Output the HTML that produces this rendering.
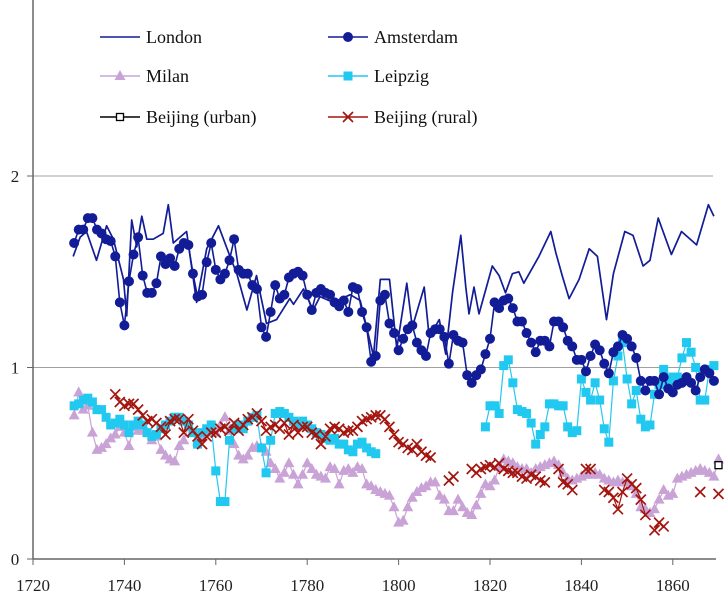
<!DOCTYPE html>
<html><head><meta charset="utf-8"><style>
body{margin:0;background:#fff;}
svg{display:block;font-family:"Liberation Serif",serif;}
</style></head><body>
<svg id="chart" width="728" height="599" viewBox="0 0 728 599"></svg>
<script>
const xTicks=[1720,1740,1760,1780,1800,1820,1840,1860];
const yTicks=[0,1,2];
const londonYears=[1728.8,1730.3,1731.7,1733.9,1736.1,1737.6,1739.8,1740.5,1741.6,1742.7,1743.8,1744.9,1746.3,1748.5,1749.6,1750.7,1753.6,1755.8,1758,1760.6,1763.1,1764.6,1766.8,1768.9,1771.1,1773.3,1776.2,1777,1779.2,1781.3,1782.8,1785.7,1789.4,1791.6,1793,1794.5,1796,1798,1799.6,1801.8,1803,1805.6,1806.7,1808.9,1810.3,1811.8,1813.6,1814.7,1815.4,1816.5,1817.6,1820.5,1822,1823.4,1824.9,1826.3,1827.4,1830.7,1833.3,1834.4,1835.8,1837.3,1839.5,1841.7,1843.5,1845.5,1847,1849.5,1851.3,1853.5,1855,1856.8,1859.7,1861.9,1865.2,1867.8,1869];
const londonVals=[1.58,1.68,1.71,1.56,1.74,1.67,1.46,1.27,1.77,1.63,1.79,1.67,1.67,1.7,1.85,1.65,1.71,1.34,1.62,1.74,1.58,1.49,1.3,1.48,1.23,1.25,1.36,1.33,1.41,1.3,1.37,1.34,1.38,1.35,1.21,1.06,1.46,1.46,1.1,1.44,1.21,1.42,1.16,1.25,1.07,1.39,1.69,1.42,1.28,1.42,1.28,1.53,1.48,1.39,1.49,1.5,1.44,1.58,1.71,1.6,1.48,1.36,1.46,1.62,1.58,1.25,1.49,1.71,1.69,1.53,1.56,1.78,1.59,1.71,1.64,1.85,1.79];
const amsterdamStart=1729;
const amsterdamVals=[1.65,1.72,1.72,1.78,1.78,1.72,1.70,1.67,1.66,1.58,1.34,1.22,1.45,1.59,1.68,1.48,1.39,1.39,1.44,1.58,1.54,1.57,1.53,1.62,1.65,1.64,1.49,1.37,1.38,1.55,1.65,1.51,1.46,1.49,1.56,1.67,1.51,1.49,1.49,1.43,1.41,1.21,1.16,1.29,1.43,1.36,1.38,1.47,1.49,1.50,1.48,1.38,1.30,1.39,1.41,1.39,1.38,1.34,1.32,1.35,1.29,1.42,1.41,1.29,1.21,1.03,1.06,1.35,1.38,1.23,1.18,1.09,1.15,1.2,1.22,1.13,1.09,1.06,1.18,1.2,1.2,1.16,1.02,1.17,1.14,1.13,0.96,0.92,0.96,0.99,1.07,1.15,1.34,1.31,1.35,1.36,1.31,1.24,1.24,1.18,1.13,1.08,1.14,1.14,1.11,1.24,1.24,1.21,1.14,1.11,1.04,1.04,0.98,1.06,1.12,1.09,1.02,0.97,1.08,1.11,1.17,1.15,1.11,1.05,0.93,0.88,0.93,0.93,0.86,0.95,0.89,0.87,0.91,0.92,0.95,0.92,0.88,0.95,0.99,0.97,0.93];
const milanStart=1729;
const milanVals=[0.75,0.87,0.78,0.8,0.66,0.57,0.58,0.6,0.63,0.65,0.69,0.66,0.59,0.69,0.67,0.67,0.66,0.62,0.64,0.57,0.54,0.52,0.51,0.59,0.62,0.69,0.66,0.61,0.64,0.66,0.67,0.66,0.7,0.74,0.67,0.6,0.54,0.52,0.54,0.58,0.59,0.58,0.56,0.5,0.47,0.42,0.45,0.5,0.44,0.39,0.44,0.5,0.47,0.44,0.43,0.42,0.48,0.47,0.39,0.46,0.47,0.45,0.48,0.47,0.39,0.38,0.36,0.35,0.34,0.33,0.27,0.19,0.2,0.27,0.32,0.35,0.37,0.38,0.4,0.4,0.33,0.31,0.25,0.25,0.31,0.27,0.24,0.23,0.28,0.34,0.39,0.38,0.41,0.48,0.52,0.51,0.5,0.48,0.47,0.47,0.45,0.47,0.48,0.49,0.5,0.51,0.49,0.45,0.42,0.41,0.42,0.43,0.44,0.44,0.45,0.44,0.42,0.41,0.4,0.41,0.4,0.4,0.38,0.34,0.27,0.26,0.24,0.26,0.31,0.36,0.33,0.34,0.42,0.43,0.44,0.45,0.46,0.47,0.46,0.45,0.43,0.52];
const leipzigStartA=1729;
const leipzigValsA=[0.8,0.81,0.83,0.84,0.82,0.78,0.78,0.74,0.7,0.71,0.73,0.7,0.66,0.7,0.72,0.7,0.66,0.64,0.65,0.68,0.7,0.72,0.74,0.74,0.72,0.7,0.66,0.6,0.66,0.68,0.7,0.46,0.3,0.3,0.62,0.68,0.7,0.68,0.72,0.74,0.75,0.58,0.45,0.62,0.76,0.77,0.76,0.74,0.72,0.7,0.72,0.7,0.68,0.66,0.65,0.63,0.62,0.63,0.6,0.6,0.57,0.56,0.6,0.61,0.58,0.56,0.55];
const leipzigStartB=1819;
const leipzigValsB=[0.69,0.8,0.8,0.76,1.01,1.04,0.92,0.78,0.77,0.76,0.71,0.6,0.65,0.69,0.81,0.81,0.8,0.8,0.69,0.66,0.67,0.94,0.87,0.83,0.92,0.83,0.68,0.61,0.93,1.06,1.13,0.94,0.81,0.88,0.73,0.69,0.7,0.86,0.91,0.99,0.93,0.95,0.95,1.05,1.13,1.08,1.0,0.83,0.83,0.99,1.01];
const ruralYears=[1738,1739,1740,1741,1742,1743,1744,1745,1746,1747,1748,1749,1750,1751,1752,1753,1754,1755,1756,1757,1758,1759,1760,1761,1762,1763,1764,1765,1766,1767,1768,1769,1770,1771,1772,1773,1774,1775,1776,1777,1778,1779,1780,1781,1782,1783,1784,1785,1786,1787,1788,1789,1790,1791,1792,1793,1794,1795,1796,1797,1798,1799,1800,1801,1802,1803,1804,1805,1806,1807,1811,1812,1816,1817,1818,1819,1820,1821,1822,1823,1824,1825,1826,1827,1828,1829,1830,1831,1832,1835,1836,1837,1838,1841,1842,1845,1846,1847,1848,1849,1850,1851,1852,1853,1854,1856,1857,1858,1866,1870];
const ruralVals=[0.86,0.82,0.8,0.81,0.81,0.78,0.75,0.72,0.73,0.71,0.69,0.65,0.72,0.73,0.73,0.66,0.73,0.67,0.64,0.6,0.64,0.66,0.66,0.68,0.69,0.67,0.71,0.67,0.7,0.73,0.74,0.76,0.72,0.67,0.69,0.7,0.68,0.71,0.65,0.7,0.66,0.69,0.69,0.66,0.65,0.6,0.64,0.68,0.69,0.68,0.66,0.67,0.67,0.69,0.72,0.73,0.74,0.75,0.75,0.73,0.69,0.65,0.61,0.6,0.58,0.57,0.6,0.56,0.54,0.53,0.41,0.43,0.47,0.45,0.47,0.48,0.49,0.48,0.5,0.47,0.46,0.45,0.45,0.43,0.42,0.44,0.43,0.41,0.4,0.47,0.4,0.39,0.36,0.47,0.47,0.36,0.35,0.32,0.26,0.35,0.42,0.39,0.37,0.31,0.23,0.15,0.19,0.17,0.35,0.34];
const urbanYears=[1870];
const urbanVals=[0.49];

const NS='http://www.w3.org/2000/svg';
const svg=document.getElementById('chart');
const X=y=>33+(y-1720)*4.57;
const Y=v=>559-v*191.5;
const NAVY='#121c96',LIL='#c9a3d6',CYAN='#21c9f0',RED='#a3150e';
function mk(tag,attrs,parent){const e=document.createElementNS(NS,tag);for(const k in attrs)e.setAttribute(k,attrs[k]);(parent||svg).appendChild(e);return e;}
function grp(name){const g=mk('g',{});


return g;}

const axes=grp('axes');
yTicks.forEach(t=>{
  if(t>0){const gl=mk('line',{x1:33,x2:713,y1:Y(t),y2:Y(t),stroke:'#a0a0a0','stroke-width':1},axes);
  
  }
  mk('line',{x1:27,x2:33,y1:Y(t),y2:Y(t),stroke:'#666'},axes);
  const tx=mk('text',{x:15,y:Y(t)+6,'font-size':17,'text-anchor':'middle',fill:'#222'},axes);tx.textContent=t;
  
  
});
mk('line',{x1:33,x2:33,y1:0,y2:559,stroke:'#666','stroke-width':1.5},axes);
mk('line',{x1:33,x2:716,y1:559,y2:559,stroke:'#666','stroke-width':1.5},axes);
xTicks.forEach(t=>{
  mk('line',{x1:X(t),x2:X(t),y1:559,y2:565,stroke:'#666'},axes);
  const tx=mk('text',{x:X(t),y:591,'font-size':17,'text-anchor':'middle',fill:'#222'},axes);tx.textContent=t;
  
  
});

function seriesFromStart(start,vals){return vals.map((v,i)=>[start+i,v]);}
function pathStr(pts,connectGap){let d='',prev=null;pts.forEach(p=>{const cmd=(prev&&(!connectGap||p[0]-prev[0]<=1.01))?'L':'M';d+=cmd+X(p[0]).toFixed(1)+' '+Y(p[1]).toFixed(1)+' ';prev=p;});return d;}
function marker(type,x,y,color,parent){
  if(type==='circle')return mk('circle',{cx:x,cy:y,r:5,fill:color},parent);
  if(type==='tri')return mk('path',{d:`M${x} ${y-6}L${x+5.5} ${y+4}L${x-5.5} ${y+4}Z`,fill:color},parent);
  if(type==='sq')return mk('rect',{x:x-4.5,y:y-4.5,width:9,height:9,fill:color},parent);
  if(type==='x')return mk('path',{d:`M${x-5} ${y-5}L${x+5} ${y+5}M${x+5} ${y-5}L${x-5} ${y+5}`,stroke:color,'stroke-width':1.7,fill:'none'},parent);
  if(type==='osq')return mk('rect',{x:x-3.5,y:y-3.5,width:7,height:7,fill:'#fff',stroke:'#000','stroke-width':1.3},parent);
}
function drawSeries(name,pts,color,mtype,lw,gaps){
  const g=grp(name);
  mk('path',{d:pathStr(pts,gaps),stroke:color,'stroke-width':lw,fill:'none','stroke-linejoin':'round'},g);
  if(mtype)pts.forEach(p=>{const m=marker(mtype,X(p[0]),Y(p[1]),color,g);
    
    });
}
drawSeries('series-milan',seriesFromStart(milanStart,milanVals),LIL,'tri',1.2,false);
drawSeries('series-leipzig-early',seriesFromStart(leipzigStartA,leipzigValsA),CYAN,'sq',1.2,false);
drawSeries('series-leipzig-late',seriesFromStart(leipzigStartB,leipzigValsB),CYAN,'sq',1.2,false);
drawSeries('series-beijing-rural',ruralYears.map((y,i)=>[y,ruralVals[i]]),RED,'x',1.2,true);
drawSeries('series-amsterdam',seriesFromStart(amsterdamStart,amsterdamVals),NAVY,'circle',1.6,false);
drawSeries('series-london',londonYears.map((y,i)=>[y,londonVals[i]]),NAVY,null,1.7,false);
drawSeries('series-beijing-urban',urbanYears.map((y,i)=>[y,urbanVals[i]]),'#000','osq',1,false);

const leg=grp('legend');
const items=[['London',100,37,NAVY,null],['Amsterdam',328,37,NAVY,'circle'],['Milan',100,76,LIL,'tri'],['Leipzig',328,76,CYAN,'sq'],['Beijing (urban)',100,117,'#000','osq'],['Beijing (rural)',328,117,RED,'x']];
items.forEach(it=>{
  const g=mk('g',{},leg);
  
  
  mk('line',{x1:it[1],x2:it[1]+40,y1:it[2],y2:it[2],stroke:it[3],'stroke-width':1.5},g);
  if(it[4])marker(it[4],it[1]+20,it[2],it[3],g);
  const t=mk('text',{x:it[1]+46,y:it[2]+6,'font-size':18,fill:'#111'},g);t.textContent=it[0];
});
</script>
</body></html>
